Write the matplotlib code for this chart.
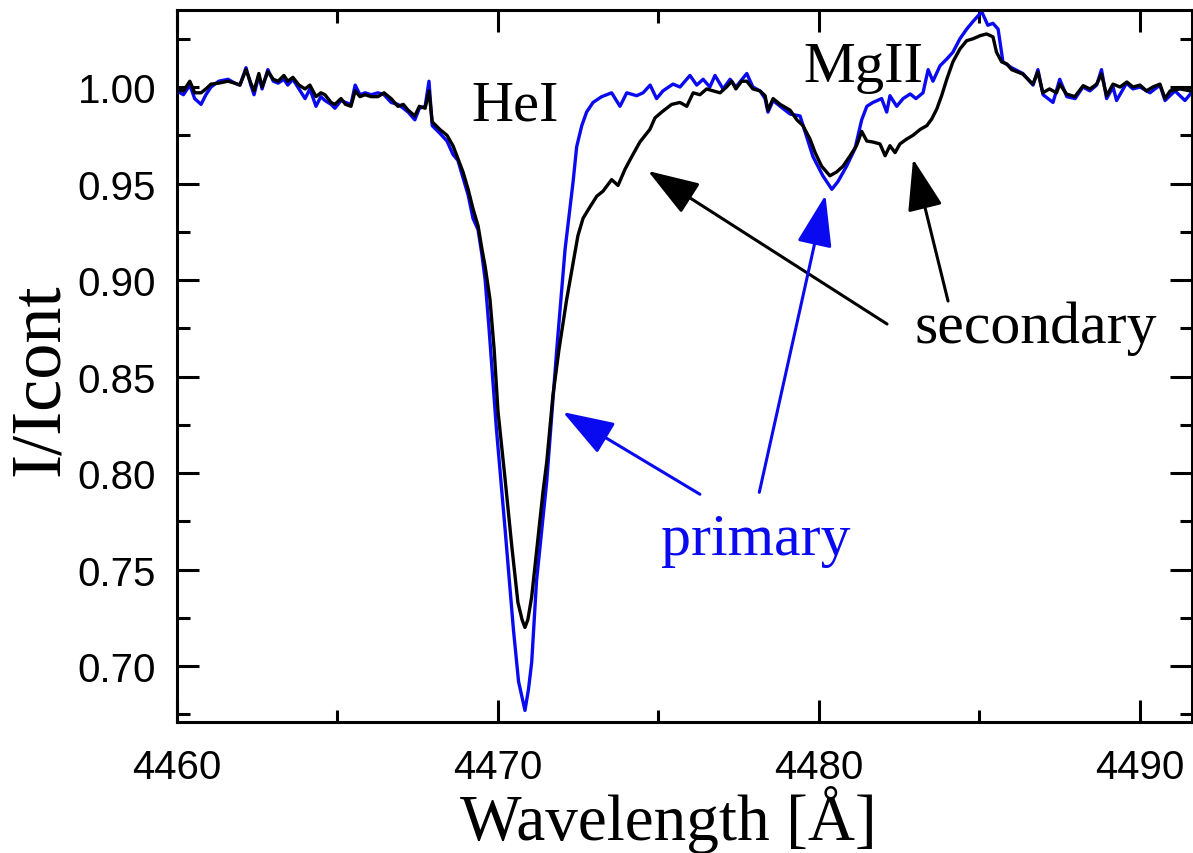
import matplotlib
matplotlib.use('Agg')
import matplotlib.pyplot as plt
from matplotlib.ticker import MultipleLocator

# spectra (wavelength in A, normalised flux)
wl_primary = [
    4460.00, 4460.20, 4460.40, 4460.55, 4460.75, 4460.90, 4461.06, 4461.30, 4461.59, 4461.80,
    4461.96, 4462.15, 4462.30, 4462.40, 4462.55, 4462.65, 4462.83, 4463.00, 4463.15, 4463.33,
    4463.45, 4463.61, 4463.80, 4463.99, 4464.14, 4464.33, 4464.48, 4464.61, 4464.80, 4464.92,
    4465.11, 4465.25, 4465.42, 4465.55, 4465.70, 4465.86, 4466.05, 4466.26, 4466.45, 4466.67,
    4466.88, 4467.05, 4467.20, 4467.41, 4467.55, 4467.73, 4467.85, 4467.95, 4468.19, 4468.41,
    4468.60, 4468.75, 4468.91, 4469.07, 4469.22, 4469.38, 4469.50, 4469.60, 4469.72, 4469.95,
    4470.22, 4470.48, 4470.64, 4470.72, 4470.84, 4470.95, 4471.05, 4471.20, 4471.52, 4471.83,
    4472.09, 4472.24, 4472.34, 4472.45, 4472.61, 4472.76, 4472.96, 4473.23, 4473.54, 4473.80,
    4474.01, 4474.32, 4474.52, 4474.74, 4474.94, 4475.14, 4475.45, 4475.67, 4475.98, 4476.19,
    4476.39, 4476.60, 4476.76, 4477.01, 4477.23, 4477.41, 4477.75, 4477.94, 4478.16, 4478.32,
    4478.41, 4478.57, 4478.79, 4479.10, 4479.41, 4479.81, 4480.12, 4480.40, 4480.59, 4480.86,
    4481.12, 4481.33, 4481.49, 4481.68, 4481.95, 4482.11, 4482.21, 4482.42, 4482.62, 4482.84,
    4483.02, 4483.24, 4483.40, 4483.55, 4483.77, 4483.98, 4484.17, 4484.39, 4484.60, 4484.80,
    4485.07, 4485.26, 4485.42, 4485.58, 4485.73, 4486.00, 4486.35, 4486.67, 4486.82, 4486.98,
    4487.29, 4487.50, 4487.72, 4487.98, 4488.22, 4488.44, 4488.65, 4488.80, 4488.96, 4489.16,
    4489.27, 4489.58, 4489.78, 4490.00, 4490.31, 4490.62, 4490.78, 4491.09, 4491.40, 4491.65,
]
flux_primary = [
    0.998, 0.996, 1.001, 0.994, 0.991, 0.996, 1.000, 1.003, 1.004, 1.002,
    1.001, 1.010, 1.001, 0.996, 1.006, 0.999, 1.009, 1.003, 1.002, 1.004,
    1.001, 1.004, 0.999, 0.994, 0.999, 0.990, 0.995, 0.993, 0.991, 0.989,
    0.993, 0.992, 0.991, 1.001, 0.996, 0.997, 0.996, 0.997, 0.996, 0.992,
    0.991, 0.989, 0.987, 0.983, 0.989, 0.990, 1.003, 0.980, 0.976, 0.972,
    0.965, 0.962, 0.953, 0.944, 0.932, 0.926, 0.913, 0.900, 0.875, 0.823,
    0.771, 0.719, 0.692, 0.686, 0.677, 0.688, 0.702, 0.744, 0.796, 0.864,
    0.916, 0.937, 0.951, 0.969, 0.980, 0.987, 0.992, 0.995, 0.997, 0.990,
    0.997, 0.9955, 0.997, 1.001, 0.994, 0.998, 1.0015, 1.000, 1.006, 1.001,
    1.004, 1.000, 1.006, 0.999, 1.004, 1.000, 1.007, 1.000, 0.998, 0.994,
    0.987, 0.993, 0.990, 0.986, 0.985, 0.964, 0.954, 0.947, 0.951, 0.959,
    0.968, 0.983, 0.990, 0.992, 0.994, 0.987, 0.9955, 0.990, 0.994, 0.9964,
    0.994, 0.997, 1.009, 1.003, 1.011, 1.0145, 1.018, 1.025, 1.030, 1.034,
    1.039, 1.032, 1.033, 1.030, 1.013, 1.010, 1.007, 1.001, 1.009, 0.996,
    0.992, 1.004, 0.995, 0.994, 1.000, 0.998, 1.001, 1.009, 0.994, 1.000,
    0.993, 1.002, 0.999, 1.000, 0.997, 1.001, 0.993, 0.998, 0.993, 0.998,
]

wl_secondary = [
    4460.00, 4460.20, 4460.40, 4460.55, 4460.75, 4460.90, 4461.06, 4461.30, 4461.59, 4461.80,
    4461.96, 4462.15, 4462.30, 4462.40, 4462.55, 4462.65, 4462.83, 4463.00, 4463.15, 4463.33,
    4463.45, 4463.61, 4463.80, 4463.99, 4464.14, 4464.33, 4464.48, 4464.61, 4464.80, 4464.92,
    4465.11, 4465.25, 4465.42, 4465.55, 4465.70, 4465.86, 4466.05, 4466.26, 4466.45, 4466.67,
    4466.88, 4467.05, 4467.20, 4467.41, 4467.55, 4467.73, 4467.85, 4467.95, 4468.19, 4468.41,
    4468.60, 4468.75, 4468.91, 4469.07, 4469.22, 4469.38, 4469.50, 4469.60, 4469.75, 4469.88,
    4470.00, 4470.22, 4470.43, 4470.62, 4470.75, 4470.84, 4470.93, 4471.05, 4471.25, 4471.40,
    4471.52, 4471.71, 4471.90, 4472.14, 4472.34, 4472.49, 4472.65, 4472.87, 4473.08, 4473.27,
    4473.54, 4473.74, 4473.96, 4474.17, 4474.42, 4474.73, 4474.89, 4475.10, 4475.41, 4475.67,
    4475.88, 4476.08, 4476.29, 4476.50, 4476.70, 4476.92, 4477.12, 4477.28, 4477.41, 4477.59,
    4477.75, 4477.94, 4478.16, 4478.32, 4478.41, 4478.57, 4478.79, 4479.10, 4479.31, 4479.50,
    4479.72, 4479.88, 4480.08, 4480.34, 4480.55, 4480.75, 4480.97, 4481.17, 4481.33, 4481.49,
    4481.68, 4481.90, 4482.06, 4482.21, 4482.37, 4482.52, 4482.73, 4482.93, 4483.15, 4483.36,
    4483.51, 4483.67, 4483.82, 4483.98, 4484.17, 4484.39, 4484.60, 4484.80, 4485.02, 4485.22,
    4485.42, 4485.53, 4485.69, 4485.85, 4486.00, 4486.35, 4486.66, 4486.82, 4486.97, 4487.18,
    4487.40, 4487.50, 4487.71, 4487.97, 4488.23, 4488.44, 4488.65, 4488.80, 4488.96, 4489.16,
    4489.38, 4489.59, 4489.78, 4490.00, 4490.20, 4490.40, 4490.62, 4490.78, 4490.94, 4491.25,
    4491.56, 4491.70,
]
flux_secondary = [
    0.999, 0.998, 1.003, 0.997, 0.997, 0.999, 1.0015, 1.002, 1.003, 1.002,
    1.001, 1.009, 1.002, 0.998, 1.007, 1.000, 1.008, 1.004, 1.003, 1.006,
    1.003, 1.005, 1.001, 0.999, 1.001, 0.995, 0.997, 0.996, 0.992, 0.991,
    0.994, 0.991, 0.990, 0.998, 0.995, 0.996, 0.995, 0.995, 0.997, 0.994,
    0.990, 0.991, 0.988, 0.985, 0.990, 0.989, 0.998, 0.982, 0.978, 0.975,
    0.9695, 0.963, 0.956, 0.947, 0.937, 0.928, 0.916, 0.907, 0.890, 0.864,
    0.832, 0.797, 0.762, 0.733, 0.724, 0.720, 0.724, 0.736, 0.767, 0.790,
    0.806, 0.840, 0.864, 0.890, 0.909, 0.923, 0.932, 0.938, 0.9435, 0.946,
    0.952, 0.949, 0.9575, 0.964, 0.9715, 0.978, 0.984, 0.987, 0.991, 0.992,
    0.990, 0.997, 0.996, 0.999, 0.998, 0.997, 1.000, 1.003, 0.999, 1.003,
    1.003, 0.999, 0.998, 0.9955, 0.988, 0.994, 0.991, 0.988, 0.983, 0.980,
    0.973, 0.966, 0.959, 0.954, 0.956, 0.959, 0.9644, 0.9696, 0.977, 0.972,
    0.9715, 0.9705, 0.9644, 0.9696, 0.966, 0.9705, 0.973, 0.975, 0.978, 0.980,
    0.9834, 0.9886, 0.9955, 1.004, 1.013, 1.0197, 1.024, 1.025, 1.0266, 1.0275,
    1.026, 1.018, 1.013, 1.012, 1.009, 1.0067, 1.0015, 1.0078, 0.997, 0.999,
    0.997, 1.0015, 0.9964, 0.995, 1.0007, 0.999, 1.0015, 1.0067, 0.9955, 1.0015,
    1.000, 1.0026, 1.000, 1.001, 0.998, 1.000, 1.0015, 0.994, 0.998, 0.999,
    0.998, 0.998,
]

BLUE = '#0a0af0'
SERIF = ['Liberation Serif', 'DejaVu Serif']
SANS = ['Liberation Sans', 'DejaVu Sans']
W, H = 1193, 854

fig = plt.figure(figsize=(W / 100, H / 100), dpi=100)
ax = fig.add_axes([177 / W, 1 - 723 / H, (1192 - 177) / W, (723 - 11) / H])

ax.plot(wl_primary, flux_primary, color=BLUE, lw=2.4)
ax.plot(wl_secondary, flux_secondary, color='black', lw=2.4)

ax.set_xlim(4460, 4491.62)
ax.set_ylim(0.671, 1.0399)

ax.xaxis.set_major_locator(MultipleLocator(10))
ax.xaxis.set_minor_locator(MultipleLocator(5))
ax.yaxis.set_major_locator(MultipleLocator(0.05))
ax.yaxis.set_minor_locator(MultipleLocator(0.025))
ax.yaxis.set_major_formatter(plt.FuncFormatter(lambda v, p: f'{v:.2f}'))

ax.tick_params(which='both', direction='in', top=True, right=True, width=2.2)
ax.tick_params(which='major', length=16)
ax.tick_params(which='minor', length=9)
ax.tick_params(axis='y', pad=15)
ax.tick_params(axis='x', pad=19)
for lab in ax.get_xticklabels() + ax.get_yticklabels():
    lab.set_family(SANS)
    lab.set_fontsize(29)
for s in ax.spines.values():
    s.set_linewidth(2.2)

# axis titles placed by hand so they sit where the reference has them
fig.text(668 / W, 1 - 840 / H, 'Wavelength [Å]', family=SERIF, fontsize=47,
         ha='center', va='baseline')
fig.text(40 / W, 1 - 380 / H, 'I/Icont', family=SERIF, fontsize=52,
         ha='center', va='center', rotation=90)

ax.text(4470.53, 0.983, 'HeI', family=SERIF, fontsize=42, ha='center', va='baseline')
ax.text(4481.37, 1.003, 'MgII', family=SERIF, fontsize=42, ha='center', va='baseline')
ax.text(4486.76, 0.868, 'secondary', family=SERIF, fontsize=43, ha='center', va='baseline')
ax.text(4478.04, 0.758, 'primary', family=SERIF, fontsize=43, ha='center', va='baseline',
        color=BLUE)

arrow_kw = dict(arrowstyle='-|>,head_length=1.6,head_width=0.55', mutation_scale=20,
                lw=2.2, shrinkA=0, shrinkB=0)
ax.annotate('', xy=(4474.67, 0.9565), xytext=(4482.12, 0.8772),
            arrowprops=dict(color='black', **arrow_kw))
ax.annotate('', xy=(4482.93, 0.9627), xytext=(4484.02, 0.8891),
            arrowprops=dict(color='black', **arrow_kw))
ax.annotate('', xy=(4472.02, 0.8316), xytext=(4476.29, 0.789),
            arrowprops=dict(color=BLUE, **arrow_kw))
ax.annotate('', xy=(4480.20, 0.944), xytext=(4478.14, 0.790),
            arrowprops=dict(color=BLUE, **arrow_kw))

fig.savefig('out.png', dpi=100)
